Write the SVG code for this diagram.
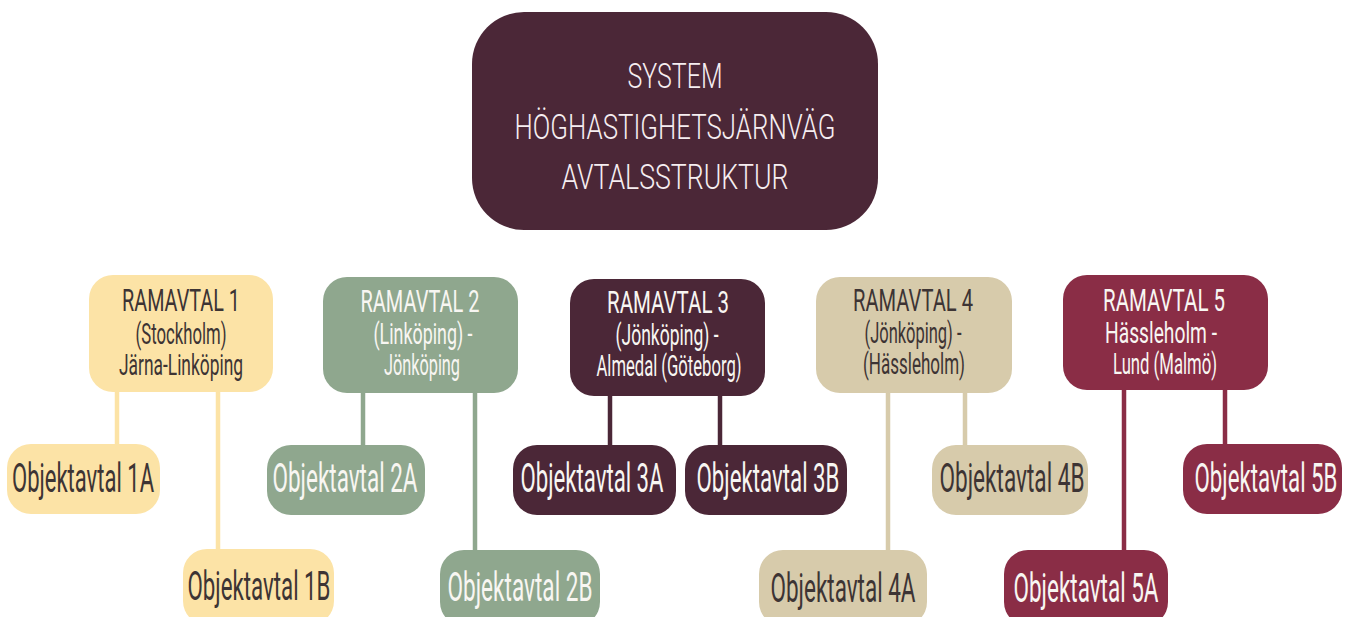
<svg xmlns="http://www.w3.org/2000/svg" width="1345" height="617" viewBox="0 0 1345 617">
<style>
text{font-family:Roboto,"Liberation Sans",sans-serif;font-weight:400;text-anchor:middle}
.t{font-size:35px;fill:#f6eef1;font-weight:300}
.h{font-size:32px}
.s{font-size:29px}
.o{font-size:40px}
.dk{fill:#3d3434}
.lt{fill:#f8f6f2}
.yel{fill:#fce3a6}
.grn{fill:#8fa78e}
.plm{fill:#4b2737}
.bei{fill:#d7cbab}
.red{fill:#8a2d46}
#connectors line{stroke-width:4.5}
</style>
<rect width="1345" height="617" fill="#ffffff"/>
<g id="connectors">
<line x1="117" y1="390" x2="117" y2="446" stroke="#fce3a6"/>
<line x1="218" y1="390" x2="218" y2="552" stroke="#fce3a6"/>
<line x1="363" y1="390" x2="363" y2="446" stroke="#8fa78e"/>
<line x1="475" y1="390" x2="475" y2="552" stroke="#8fa78e"/>
<line x1="610" y1="392" x2="610" y2="447" stroke="#4b2737"/>
<line x1="720" y1="392" x2="720" y2="447" stroke="#4b2737"/>
<line x1="888" y1="390" x2="888" y2="552" stroke="#d7cbab"/>
<line x1="965" y1="390" x2="965" y2="446" stroke="#d7cbab"/>
<line x1="1124" y1="388" x2="1124" y2="552" stroke="#8a2d46"/>
<line x1="1225" y1="388" x2="1225" y2="446" stroke="#8a2d46"/>
</g>
<g id="system">
<rect x="472" y="12" width="406" height="218" rx="52" class="plm"/>
<text class="t" transform="translate(675 88) scale(.5 1)" textLength="190" lengthAdjust="spacingAndGlyphs">SYSTEM</text>
<text class="t" transform="translate(675 139) scale(.5 1)" textLength="642" lengthAdjust="spacingAndGlyphs">HÖGHASTIGHETSJÄRNVÄG</text>
<text class="t" transform="translate(675 189) scale(.5 1)" textLength="454" lengthAdjust="spacingAndGlyphs">AVTALSSTRUKTUR</text>
</g>
<g id="ramavtal1">
<rect x="89" y="275" width="184" height="117" rx="24" class="yel"/>
<text class="h dk" transform="translate(181 311) scale(.5 1)" textLength="236" lengthAdjust="spacingAndGlyphs">RAMAVTAL 1</text>
<text class="s dk" transform="translate(181 344) scale(.5 1)" textLength="182" lengthAdjust="spacingAndGlyphs">(Stockholm)</text>
<text class="s dk" transform="translate(181 375) scale(.5 1)" textLength="248" lengthAdjust="spacingAndGlyphs">Järna-Linköping</text>
</g>
<g id="ramavtal2">
<rect x="323" y="277" width="195" height="116" rx="24" class="grn"/>
<text class="h lt" transform="translate(420 312) scale(.5 1)" textLength="238" lengthAdjust="spacingAndGlyphs">RAMAVTAL 2</text>
<text class="s lt" transform="translate(423 344) scale(.5 1)" textLength="198" lengthAdjust="spacingAndGlyphs">(Linköping) -</text>
<text class="s lt" transform="translate(422 375) scale(.5 1)" textLength="152" lengthAdjust="spacingAndGlyphs">Jönköping</text>
</g>
<g id="ramavtal3">
<rect x="570" y="279" width="195" height="117" rx="24" class="plm"/>
<text class="h lt" transform="translate(668 313) scale(.5 1)" textLength="244" lengthAdjust="spacingAndGlyphs">RAMAVTAL 3</text>
<text class="s lt" transform="translate(667 345) scale(.5 1)" textLength="206" lengthAdjust="spacingAndGlyphs">(Jönköping) -</text>
<text class="s lt" transform="translate(669 376) scale(.5 1)" textLength="290" lengthAdjust="spacingAndGlyphs">Almedal (Göteborg)</text>
</g>
<g id="ramavtal4">
<rect x="816" y="277" width="196" height="116" rx="24" class="bei"/>
<text class="h dk" transform="translate(913 311) scale(.5 1)" textLength="240" lengthAdjust="spacingAndGlyphs">RAMAVTAL 4</text>
<text class="s dk" transform="translate(913 343) scale(.5 1)" textLength="194" lengthAdjust="spacingAndGlyphs">(Jönköping) -</text>
<text class="s dk" transform="translate(914 374) scale(.5 1)" textLength="204" lengthAdjust="spacingAndGlyphs">(Hässleholm)</text>
</g>
<g id="ramavtal5">
<rect x="1063" y="275" width="205" height="115" rx="24" class="red"/>
<text class="h lt" transform="translate(1164 311) scale(.5 1)" textLength="244" lengthAdjust="spacingAndGlyphs">RAMAVTAL 5</text>
<text class="s lt" transform="translate(1161 343) scale(.5 1)" textLength="224" lengthAdjust="spacingAndGlyphs">Hässleholm -</text>
<text class="s lt" transform="translate(1165 374) scale(.5 1)" textLength="208" lengthAdjust="spacingAndGlyphs">Lund (Malmö)</text>
</g>
<g id="objekt1a">
<rect x="7" y="444" width="153" height="70" rx="24" class="yel"/>
<text class="o dk" transform="translate(83 492) scale(.5 1)" textLength="284" lengthAdjust="spacingAndGlyphs">Objektavtal 1A</text>
</g>
<g id="objekt1b">
<rect x="183" y="549" width="151" height="76" rx="24" class="yel"/>
<text class="o dk" transform="translate(259 600) scale(.5 1)" textLength="286" lengthAdjust="spacingAndGlyphs">Objektavtal 1B</text>
</g>
<g id="objekt2a">
<rect x="267" y="445" width="158" height="70" rx="24" class="grn"/>
<text class="o lt" transform="translate(345 492) scale(.5 1)" textLength="290" lengthAdjust="spacingAndGlyphs">Objektavtal 2A</text>
</g>
<g id="objekt2b">
<rect x="440" y="550" width="160" height="76" rx="24" class="grn"/>
<text class="o lt" transform="translate(520 601) scale(.5 1)" textLength="290" lengthAdjust="spacingAndGlyphs">Objektavtal 2B</text>
</g>
<g id="objekt3a">
<rect x="513" y="445" width="163" height="70" rx="24" class="plm"/>
<text class="o lt" transform="translate(592 492) scale(.5 1)" textLength="286" lengthAdjust="spacingAndGlyphs">Objektavtal 3A</text>
</g>
<g id="objekt3b">
<rect x="685" y="445" width="162" height="70" rx="24" class="plm"/>
<text class="o lt" transform="translate(768 492) scale(.5 1)" textLength="286" lengthAdjust="spacingAndGlyphs">Objektavtal 3B</text>
</g>
<g id="objekt4a">
<rect x="759" y="550" width="168" height="76" rx="24" class="bei"/>
<text class="o dk" transform="translate(843 602) scale(.5 1)" textLength="290" lengthAdjust="spacingAndGlyphs">Objektavtal 4A</text>
</g>
<g id="objekt4b">
<rect x="932" y="445" width="156" height="70" rx="24" class="bei"/>
<text class="o dk" transform="translate(1012 492) scale(.5 1)" textLength="290" lengthAdjust="spacingAndGlyphs">Objektavtal 4B</text>
</g>
<g id="objekt5a">
<rect x="1004" y="550" width="164" height="76" rx="24" class="red"/>
<text class="o lt" transform="translate(1086 602) scale(.5 1)" textLength="290" lengthAdjust="spacingAndGlyphs">Objektavtal 5A</text>
</g>
<g id="objekt5b">
<rect x="1183" y="444" width="159" height="70" rx="24" class="red"/>
<text class="o lt" transform="translate(1266 492) scale(.5 1)" textLength="286" lengthAdjust="spacingAndGlyphs">Objektavtal 5B</text>
</g>
</svg>
